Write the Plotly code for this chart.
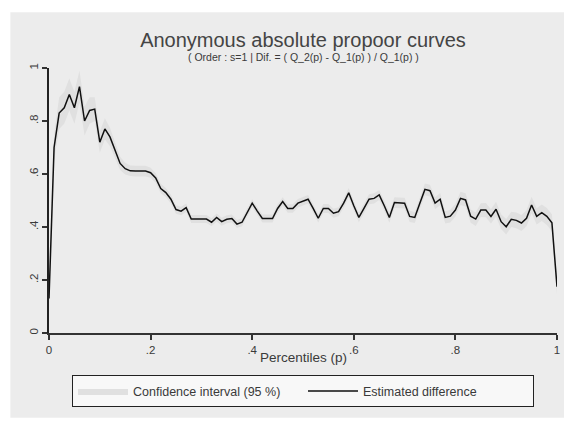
import plotly.graph_objects as go

# Percentiles p and the estimated relative difference (Q_2(p) - Q_1(p)) / Q_1(p)
percentiles = [i / 100 for i in range(101)]
estimate = [
    0.13, 0.70, 0.83, 0.85, 0.90, 0.85, 0.93, 0.80, 0.84, 0.845,
    0.72, 0.77, 0.74, 0.69, 0.64, 0.62, 0.612, 0.611, 0.611, 0.611,
    0.605, 0.585, 0.545, 0.53, 0.505, 0.466, 0.46, 0.473, 0.43, 0.43,
    0.43, 0.43, 0.418, 0.436, 0.42, 0.429, 0.432, 0.411, 0.418, 0.455,
    0.49, 0.46, 0.432, 0.432, 0.432, 0.47, 0.496, 0.47, 0.47, 0.49,
    0.497, 0.505, 0.47, 0.433, 0.47, 0.47, 0.452, 0.458, 0.49, 0.529,
    0.48, 0.436, 0.47, 0.505, 0.508, 0.521, 0.48, 0.436, 0.492, 0.49,
    0.49, 0.44, 0.436, 0.49, 0.542, 0.537, 0.49, 0.505, 0.436, 0.441,
    0.464, 0.508, 0.502, 0.441, 0.43, 0.464, 0.464, 0.44, 0.467, 0.42,
    0.401, 0.429, 0.425, 0.415, 0.433, 0.483, 0.44, 0.454, 0.44, 0.416,
    0.175,
]
# Half-width of the 95 % confidence band at each percentile
ci_half = [
    0.03, 0.05, 0.06, 0.06, 0.06, 0.06, 0.06, 0.055, 0.05, 0.045,
    0.04, 0.04, 0.035, 0.03, 0.025, 0.022, 0.02, 0.02, 0.02, 0.02,
    0.019, 0.018, 0.018, 0.017, 0.017, 0.016, 0.016, 0.016, 0.015, 0.015,
    0.015, 0.015, 0.015, 0.015, 0.015, 0.015, 0.015, 0.015, 0.015, 0.015,
    0.015, 0.015, 0.015, 0.015, 0.015, 0.016, 0.016, 0.016, 0.016, 0.016,
    0.016, 0.016, 0.016, 0.016, 0.017, 0.017, 0.017, 0.017, 0.017, 0.018,
    0.018, 0.018, 0.018, 0.019, 0.019, 0.019, 0.019, 0.02, 0.02, 0.02,
    0.02, 0.021, 0.021, 0.021, 0.022, 0.022, 0.022, 0.023, 0.023, 0.024,
    0.024, 0.025, 0.025, 0.025, 0.026, 0.026, 0.027, 0.027, 0.028, 0.028,
    0.029, 0.029, 0.03, 0.03, 0.03, 0.031, 0.031, 0.031, 0.032, 0.032,
    0.03,
]
ci_low = [e - h for e, h in zip(estimate, ci_half)]
ci_high = [e + h for e, h in zip(estimate, ci_half)]

x_ticks = [0, 0.2, 0.4, 0.6, 0.8, 1]
x_tick_text = ["0", ".2", ".4", ".6", ".8", "1"]
y_ticks = [0, 0.2, 0.4, 0.6, 0.8, 1]
y_tick_text = ["0", ".2", ".4", ".6", ".8", "1"]

FONT = "Liberation Sans, Arial, sans-serif"
TEXT = "#3a3a3a"

fig = go.Figure()

# Confidence band: lower edge (hidden) then upper edge filled down to it
fig.add_trace(go.Scatter(
    x=percentiles, y=ci_low, mode="lines",
    line=dict(width=0, color="rgba(0,0,0,0)"),
    showlegend=False, hoverinfo="skip",
))
fig.add_trace(go.Scatter(
    x=percentiles, y=ci_high, mode="lines",
    line=dict(width=0, color="rgba(0,0,0,0)"),
    fill="tonexty", fillcolor="#e0e0e0",
    name="Confidence interval (95 %)",
))
fig.add_trace(go.Scatter(
    x=percentiles, y=estimate, mode="lines",
    line=dict(color="#111111", width=1.5),
    name="Estimated difference",
))

fig.update_layout(
    width=564, height=421,
    margin=dict(l=49, r=7, t=68, b=88, autoexpand=False),
    paper_bgcolor="white",
    plot_bgcolor="#f8f8f8",
    font=dict(family=FONT, color=TEXT, size=11),
    title=dict(
        text="Anonymous absolute propoor curves",
        font=dict(size=20, color="#444444"),
        x=0.5, xanchor="center", xref="paper",
        y=0.905, yref="container", yanchor="middle",
    ),
    annotations=[
        dict(text="( Order : s=1 | Dif. = ( Q_2(p) - Q_1(p) ) / Q_1(p) )",
             xref="paper", yref="paper", x=0.5, y=1.0415,
             xanchor="center", yanchor="middle", showarrow=False,
             font=dict(size=10.5, color=TEXT)),
        dict(text="Percentiles (p)",
             xref="paper", yref="paper", x=0.5, y=-0.094,
             xanchor="center", yanchor="middle", showarrow=False,
             font=dict(size=13.5, color=TEXT)),
    ],
    showlegend=True,
    legend=dict(
        orientation="h",
        x=0.5, xanchor="center",
        y=-0.16, yanchor="top",
        bgcolor="#f8f8f8",
        bordercolor="#222222", borderwidth=1,
        font=dict(size=12.5, color=TEXT),
        itemwidth=50,
        entrywidth=165, entrywidthmode="pixels",
        traceorder="normal",
    ),
    shapes=[
        # outer graph region
        dict(type="rect", xref="paper", yref="paper",
             x0=-0.076, x1=1.05, y0=-0.32, y1=1.21,
             fillcolor="#ececec", line=dict(width=0), layer="below"),
    ],
)

fig.update_xaxes(
    range=[0, 1], tickvals=x_ticks, ticktext=x_tick_text,
    showgrid=False, zeroline=False,
    showline=True, linecolor="#333333", linewidth=1.5,
    ticks="outside", ticklen=5, tickcolor="#333333", tickwidth=1.5,
    ticklabelstandoff=0,
    tickfont=dict(size=11.5, color=TEXT),
)
fig.update_yaxes(
    range=[0, 1], tickvals=y_ticks, ticktext=y_tick_text,
    showgrid=True, gridcolor="#ececec", gridwidth=1,
    zeroline=False,
    showline=True, linecolor="#222222", linewidth=1.5,
    ticks="outside", ticklen=5, tickcolor="#333333", tickwidth=1.5,
    tickangle=-90,
    tickfont=dict(size=11.5, color=TEXT),
)

fig.write_html("out.html")
